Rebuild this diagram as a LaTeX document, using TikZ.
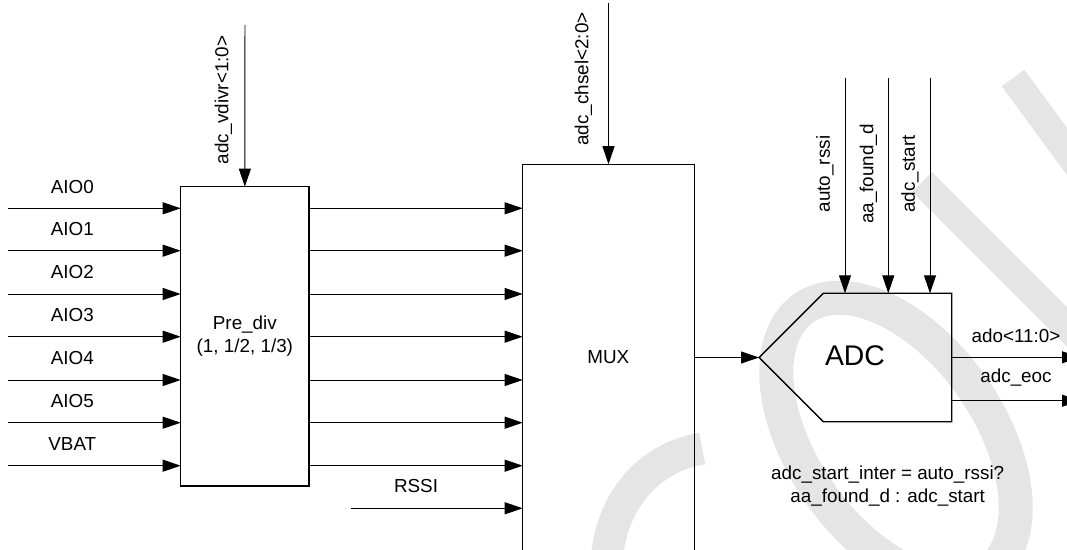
\documentclass[tikz,border=0pt]{standalone}
\usepackage{fontspec}
\setmainfont{Liberation Sans}
\usetikzlibrary{arrows.meta, positioning, calc}
\definecolor{wmgray}{RGB}{229,229,229}

\begin{document}
\begin{tikzpicture}[x=0.025cm, y=-0.025cm,
    sig/.style={-{Triangle[length=0.45cm, width=0.3cm]}, line width=0.7pt},
    blockbox/.style={draw, line width=0.8pt, inner sep=0pt, outer sep=0pt},
    lbl/.style={font=\fontsize{13.4}{16.1}\selectfont, inner sep=0pt},
    wmark/.style={draw=wmgray, line width=0.85cm, line join=round}]
        \useasboundingbox (0,0) rectangle (1067,550);
        \clip (0,0) rectangle (1067,550);
        % Watermark
        \draw[wmark, line width=0.8cm] plot[domain=159:381, samples=80]
          ({753.6+97.51*cos(\x)+110.59*sin(\x)}, {606.3+139.26*cos(\x)-77.44*sin(\x)});
        \draw[wmark] plot[domain=0:360, samples=121]
          ({896+92.35*cos(\x)+76.19*sin(\x)}, {440+131.89*cos(\x)-53.34*sin(\x)}) -- cycle;
        \draw[wmark, line width=0.7cm] (1013,78) -- (1110,210);
        \draw[wmark, line width=0.7cm] (922,182) -- (1110,370);
        % Blocks
        \node[blockbox, lbl, align=center, minimum width=3.2075cm, minimum height=7.4825cm]
          (prediv) at (244.85,336.35) {Pre\_div\\(1, 1/2, 1/3)};
        \node[blockbox, minimum width=4.29cm, minimum height=10.1425cm] (mux) at (608.5,367.15) {};
        \node[lbl] (muxlbl) at (608.3,356.7) {MUX};
        \node[inner sep=0pt, outer sep=0pt, minimum width=3.21cm, minimum height=3.21cm]
          (adcbody) at (887.5,357.5) {};
        \coordinate (adctip) at (759,357.5);
        \draw[line width=1pt] (adctip) -- (adcbody.north west) -- (adcbody.north east)
          -- (adcbody.south east) -- (adcbody.south west) -- cycle;
        \node[lbl, font=\fontsize{20.2}{24}\selectfont] (adclbl) at (855,356) {ADC};
        % Analog inputs
        \foreach \name/\yy [count=\i] in {AIO0/208.3, AIO1/250.7, AIO2/294, AIO3/336.7, AIO4/380, AIO5/422.7, VBAT/465.7} {
          \coordinate (in\i) at (8,\yy);
          \node[lbl] (inlbl\i) at (72.3,\yy-21.5) {\name};
          \draw[sig] (in\i) -- (in\i -| prediv.west);
          \draw[sig] (in\i -| prediv.east) -- (in\i -| mux.west);
        }
        \coordinate (rssiin) at (351,508.3);
        \node[lbl] (rssilbl) at (416,486) {RSSI};
        \draw[sig] (rssiin) -- (rssiin -| mux.west);
        % Selects
        \coordinate (vdivrin) at (245,25);
        \draw[sig] (vdivrin) -- (prediv.north);
        \node[lbl, rotate=90] (vdivrlbl) at (223.3,100) {adc\_vdivr<1:0>};
        \coordinate (chselin) at (608.5,3);
        \draw[sig] (chselin) -- (mux.north);
        \node[lbl, rotate=90] (chsellbl) at (583.3,79) {adc\_chsel<2:0>};
        % MUX to ADC
        \draw[sig] (adctip -| mux.east) -- (adctip);
        % ADC controls
        \foreach \xx/\lx/\txt [count=\i] in {845/825/auto\_rssi, 888.3/868.3/aa\_found\_d, 930/910/adc\_start} {
          \coordinate (ctl\i) at (\xx,78.3);
          \draw[sig] (ctl\i) -- (ctl\i |- adcbody.north);
          \node[lbl, rotate=90] (ctllbl\i) at (\lx,174) {\txt};
        }
        % Outputs
        \coordinate (adoout) at (1080,357.3);
        \coordinate (eocout) at (1080,400.7);
        \draw[sig] (adoout -| adcbody.east) -- (adoout);
        \draw[sig] (eocout -| adcbody.east) -- (eocout);
        \node[lbl] (adolbl) at (1016,336) {ado<11:0>};
        \node[lbl] (eoclbl) at (1016,378) {adc\_eoc};
        % Note
        \node[lbl, align=center] (note) at (887.7,486.3) {adc\_start\_inter = auto\_rssi?\\aa\_found\_d : adc\_start};
      \end{tikzpicture}
\end{document}
